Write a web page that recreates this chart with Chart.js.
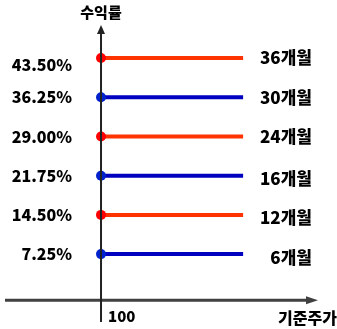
<!DOCTYPE html>
<html>
<head>
<meta charset="utf-8">
<script src="https://cdn.jsdelivr.net/npm/chart.js@4/dist/chart.umd.min.js"></script>
<style>
  body { margin: 0; background: #fff; }
  #wrap { width: 337px; height: 329px; }
</style>
</head>
<body>
<div id="wrap"><canvas id="myChart"></canvas></div>
<script>
// data
const periods = ['36개월', '30개월', '24개월', '16개월', '12개월', '6개월']
const rates = [43.50, 36.25, 29.00, 21.75, 14.50, 7.25]
const rateLabels = ['43.50%', '36.25%', '29.00%', '21.75%', '14.50%', '7.25%']
const lineColors = ['#ff3300', '#0000c0', '#ff3300', '#0000c0', '#ff3300', '#0000c0']
const dotColors = ['#ff0000', '#0022cc', '#ff0000', '#0022cc', '#ff0000', '#0022cc']
const basePrice = 100
const lineEnd = 248

const font = '"Noto Sans CJK KR", sans-serif'

// axes, arrows and texts
const drawExtras = {
    id: 'drawExtras',
    afterDraw(chart) {
        const c = chart.ctx
        const xs = chart.scales.x
        const ys = chart.scales.y
        const area = chart.chartArea
        const ax = xs.getPixelForValue(basePrice)
        const ay = ys.getPixelForValue(-1.3)

        c.save()
        // x axis
        c.strokeStyle = '#404040'
        c.lineWidth = 3
        c.beginPath()
        c.moveTo(area.left, ay)
        c.lineTo(area.right - 6, ay)
        c.stroke()
        c.fillStyle = '#404040'
        c.beginPath()
        c.moveTo(area.right, ay)
        c.lineTo(area.right - 12, ay - 4)
        c.lineTo(area.right - 12, ay + 4)
        c.closePath()
        c.fill()

        // y axis
        c.strokeStyle = '#222'
        c.lineWidth = 2
        c.beginPath()
        c.moveTo(ax, area.bottom)
        c.lineTo(ax, area.top + 6)
        c.stroke()
        c.fillStyle = '#222'
        c.beginPath()
        c.moveTo(ax, area.top)
        c.lineTo(ax - 4, area.top + 9)
        c.lineTo(ax + 4, area.top + 9)
        c.closePath()
        c.fill()
        c.restore()
    },
    afterDatasetsDraw(chart) {
        const c = chart.ctx
        const xs = chart.scales.x
        const ys = chart.scales.y
        const ax = xs.getPixelForValue(basePrice)
        const area = chart.chartArea

        c.save()
        c.fillStyle = '#000'
        c.textBaseline = 'middle'
        rates.forEach((r, i) => {
            const y = ys.getPixelForValue(r)
            c.textAlign = 'right'
            c.font = '900 16px ' + font
            c.fillText(rateLabels[i], ax - 29, y + (i === 0 ? 7 : 0))
            c.font = '900 17px ' + font
            c.fillText(periods[i], area.right - 6, y + (i > 2 ? 3 : 0))
        })

        c.textAlign = 'center'
        c.font = '900 15px ' + font
        c.fillText('수익률', ax, 12)
        c.textAlign = 'left'
        c.font = '900 15px ' + font
        c.fillText(String(basePrice), ax + 7, 316)
        c.textAlign = 'right'
        c.font = '900 16px ' + font
        c.fillText('기준주가', 337, 318)
        c.restore()
    }
}

const ctx = document.querySelector('#myChart').getContext('2d')

let chart = new Chart(ctx, {
    type: 'line',
    data: {
        datasets: rates.map((r, i) => ({
            label: periods[i],
            data: [{ x: basePrice, y: r }, { x: lineEnd, y: r }],
            borderColor: lineColors[i],
            borderWidth: 4,
            pointRadius: [5, 0],
            pointBackgroundColor: dotColors[i],
            pointBorderWidth: 0
        }))
    },
    options: {
        responsive: true,
        maintainAspectRatio: false,
        animation: false,
        layout: { padding: { left: 5, right: 19, top: 25, bottom: 7 } },
        plugins: { legend: { display: false }, tooltip: { enabled: false } },
        scales: {
            x: { type: 'linear', min: 0, max: 326, display: false },
            y: { type: 'linear', min: -5.3, max: 49.6, display: false }
        }
    },
    plugins: [drawExtras]
})
</script>
</body>
</html>
